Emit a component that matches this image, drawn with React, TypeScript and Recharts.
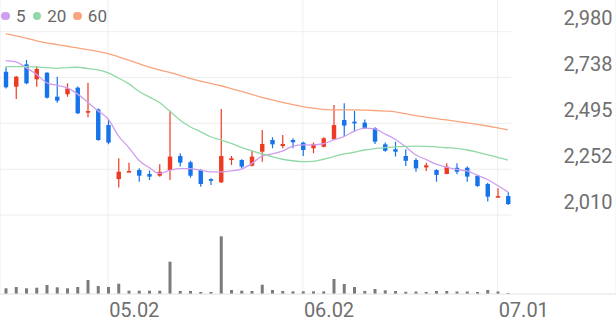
import React from "react";
import { ComposedChart, BarChart, Bar, Line, XAxis, YAxis, CartesianGrid } from "recharts";

const dates = [
  "04.17", "04.18", "04.21", "04.22", "04.23", "04.24", "04.25", "04.28", "04.29", "04.30",
  "05.02", "05.07", "05.08", "05.09", "05.12", "05.13", "05.14", "05.15", "05.16", "05.19",
  "05.20", "05.21", "05.22", "05.23", "05.26", "05.27", "05.28", "05.29", "05.30", "06.02",
  "06.04", "06.05", "06.09", "06.10", "06.11", "06.12", "06.13", "06.16", "06.17", "06.18",
  "06.19", "06.20", "06.23", "06.24", "06.25", "06.26", "06.27", "06.30", "07.01", "07.02",
];
const opens = [
  2768, 2689, 2807, 2728, 2763, 2636, 2649, 2684, 2553, 2569,
  2486, 2200, 2238, 2248, 2227, 2218, 2248, 2322, 2289, 2248,
  2200, 2183, 2301, 2301, 2271, 2345, 2407, 2375, 2407, 2393,
  2363, 2371, 2411, 2513, 2504, 2499, 2469, 2384, 2358, 2322,
  2301, 2262, 2248, 2227, 2260, 2260, 2218, 2174, 2104, 2110,
];
const highs = [
  2792, 2745, 2830, 2799, 2765, 2742, 2707, 2690, 2710, 2573,
  2516, 2310, 2287, 2257, 2245, 2278, 2562, 2337, 2297, 2252,
  2204, 2571, 2322, 2305, 2350, 2460, 2421, 2433, 2416, 2398,
  2393, 2421, 2592, 2601, 2560, 2516, 2474, 2393, 2398, 2358,
  2310, 2287, 2252, 2284, 2284, 2266, 2222, 2181, 2151, 2130,
];
const lows = [
  2680, 2624, 2702, 2689, 2627, 2604, 2636, 2545, 2527, 2403,
  2384, 2156, 2236, 2186, 2195, 2213, 2195, 2266, 2207, 2160,
  2169, 2180, 2275, 2257, 2266, 2292, 2363, 2363, 2363, 2322,
  2337, 2368, 2407, 2428, 2451, 2465, 2386, 2345, 2319, 2269,
  2239, 2243, 2186, 2225, 2225, 2186, 2160, 2081, 2102, 2063,
];
const closes = [
  2686, 2742, 2707, 2783, 2631, 2615, 2680, 2548, 2560, 2407,
  2393, 2239, 2243, 2218, 2213, 2239, 2319, 2287, 2218, 2174,
  2191, 2322, 2310, 2266, 2319, 2386, 2384, 2386, 2395, 2354,
  2386, 2416, 2486, 2483, 2495, 2469, 2398, 2350, 2345, 2297,
  2257, 2273, 2222, 2266, 2239, 2213, 2163, 2107, 2110, 2068,
];
const volumes = [
  57, 70, 57, 63, 90, 67, 57, 70, 140, 80,
  70, 103, 33, 33, 33, 33, 323, 30, 30, 20,
  20, 577, 40, 33, 30, 93, 40, 30, 27, 27,
  27, 27, 150, 100, 70, 30, 50, 37, 30, 22,
  25, 20, 30, 30, 25, 25, 20, 40, 25, 10,
];
const ma5 = [
  2827, 2820, 2790, 2755, 2710, 2696, 2683, 2651, 2607, 2562,
  2518, 2429, 2368, 2300, 2261, 2230, 2246, 2255, 2255, 2247,
  2238, 2238, 2243, 2253, 2282, 2321, 2333, 2348, 2374, 2381,
  2381, 2387, 2407, 2425, 2453, 2470, 2466, 2439, 2411, 2372,
  2329, 2304, 2279, 2263, 2251, 2243, 2221, 2198, 2166, 2132,
];
const ma20 = [
  2795, 2795, 2795, 2793, 2790, 2786, 2790, 2792, 2785, 2778,
  2762, 2735, 2705, 2665, 2635, 2605, 2560, 2513, 2477, 2451,
  2424, 2407, 2389, 2368, 2350, 2333, 2319, 2305, 2297, 2292,
  2294, 2305, 2319, 2333, 2342, 2354, 2361, 2366, 2370, 2373,
  2375, 2373, 2370, 2366, 2363, 2354, 2343, 2329, 2315, 2301,
];
const ma60 = [
  2968, 2958, 2946, 2932, 2921, 2912, 2903, 2894, 2885, 2876,
  2864, 2847, 2829, 2811, 2793, 2778, 2765, 2749, 2733, 2719,
  2706, 2694, 2679, 2664, 2648, 2633, 2619, 2606, 2594, 2584,
  2576, 2569, 2566, 2566, 2566, 2565, 2563, 2560, 2556, 2546,
  2536, 2528, 2520, 2513, 2505, 2498, 2490, 2481, 2471, 2460,
];
const yTicks = [2010, 2252, 2495, 2738, 2980];
const xTicks = ["05.02", "06.02", "07.01"];
const maSeries = [
  { key: "ma5", label: "5", color: "#cf9ef0" },
  { key: "ma20", label: "20", color: "#90d9a6" },
  { key: "ma60", label: "60", color: "#f8a47e" },
];

const RED = "#ee3a22";
const BLUE = "#1673ea";
const FONT = "Roboto, 'Noto Sans', sans-serif";
const W = 616;
const H = 321;

const rows = dates.map((date, i) => ({
  date,
  open: opens[i],
  high: highs[i],
  low: lows[i],
  close: closes[i],
  volume: volumes[i],
  ma5: ma5[i],
  ma20: ma20[i],
  ma60: ma60[i],
}));

function Candle(props: any) {
  const { x, y, width, height, payload } = props;
  if (x == null || y == null || !payload) return null;
  const top = Math.min(y, y + height);
  const h = Math.abs(height);
  const { open, close, high, low } = payload;
  const span = high - low || 1;
  const toY = (v: number) => top + ((high - v) / span) * h;
  const color = close >= open ? RED : BLUE;
  const cx = x + width / 2;
  const bTop = toY(Math.max(open, close));
  const bBot = toY(Math.min(open, close));
  return (
    <g>
      <line x1={cx} x2={cx} y1={top} y2={top + h} stroke={color} strokeWidth={1.2} />
      <rect x={cx - 2.2} y={bTop} width={4.4} height={Math.max(bBot - bTop, 1.6)} fill={color} />
    </g>
  );
}

function YTick(props: any) {
  const { y, payload } = props;
  return (
    <text x={612.5} y={y - 6.5} textAnchor="end" fontSize={20} fill="#6f6f6f" fontFamily={FONT}>
      {Number(payload.value).toLocaleString("en-US")}
    </text>
  );
}

function XTick(props: any) {
  const { x, payload } = props;
  return (
    <text x={x + 1} y={316.5} textAnchor="start" fontSize={20} fill="#6f6f6f" fontFamily={FONT}>
      {payload.value}
    </text>
  );
}

export default function App() {
  return (
    <div style={{ position: "absolute", left: 0, top: 0, width: W, height: H, overflow: "hidden", background: "#fff" }}>
      <div style={{ position: "absolute", left: 0, top: 0 }}>
        <BarChart width={W} height={H} data={rows} margin={{ top: 234, right: 0, bottom: 0, left: 0 }}>
          <CartesianGrid horizontal={false} y={0} height={294} stroke="#eeeeee" />
          <XAxis
            dataKey="date"
            height={27}
            ticks={xTicks}
            interval={0}
            tick={<XTick />}
            tickLine={false}
            axisLine={{ stroke: "#e2e2e2" }}
            padding={{ left: 0.5, right: 103 }}
          />
          <YAxis hide domain={[0, 600]} />
          <Bar dataKey="volume" fill="#7b7b7b" barSize={3} isAnimationActive={false} />
        </BarChart>
      </div>
      <div style={{ position: "absolute", left: 0, top: 0 }}>
        <ComposedChart width={W} height={H} data={rows} margin={{ top: 31.7, right: 0, bottom: 106, left: 0 }}>
          <CartesianGrid vertical={false} x={0} width={511} stroke="#eeeeee" />
          <XAxis
            dataKey="date"
            height={0}
            tick={false}
            tickLine={false}
            axisLine={{ stroke: "#e4e4e4" }}
            padding={{ left: 0.5, right: 102 }}
          />
          <YAxis
            orientation="right"
            width={1}
            domain={[2010, 2980]}
            ticks={yTicks}
            interval={0}
            tick={<YTick />}
            axisLine={false}
            tickLine={false}
            allowDataOverflow
          />
          {maSeries.map((s) => (
            <Line
              key={s.key}
              dataKey={s.key}
              type="monotone"
              stroke={s.color}
              strokeWidth={1.3}
              dot={false}
              isAnimationActive={false}
            />
          ))}
          <Bar
            dataKey={(d: any) => [d.low, d.high]}
            shape={<Candle />}
            barSize={5}
            isAnimationActive={false}
          />
        </ComposedChart>
      </div>
      <div
        style={{
          position: "absolute",
          left: 1.4,
          top: 5.9,
          display: "flex",
          alignItems: "center",
          fontFamily: FONT,
          fontSize: 17,
          lineHeight: "20px",
          color: "#666",
        }}
      >
        {maSeries.map((s) => (
          <div key={s.key} style={{ display: "flex", alignItems: "center", marginRight: 7 }}>
            <span style={{ width: 8.6, height: 8.6, borderRadius: "50%", background: s.color, marginRight: 6, display: "inline-block" }} />
            <span>{s.label}</span>
          </div>
        ))}
      </div>
    </div>
  );
}
